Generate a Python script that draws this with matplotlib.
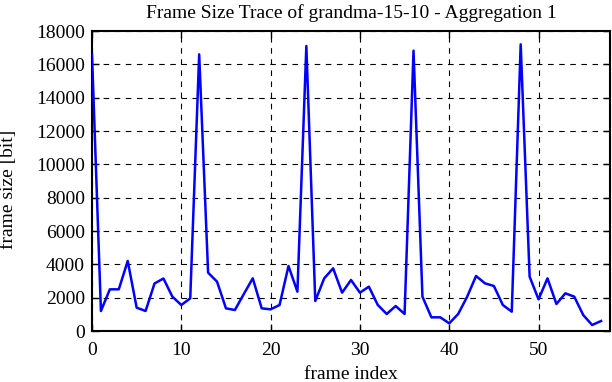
import numpy as np
import matplotlib
matplotlib.use("Agg")
import matplotlib.pyplot as plt

# frame sizes in bit
frame_size = [16600, 1200, 2500, 2500, 4200, 1400, 1200, 2850, 3150, 2060,
              1560, 1960, 16600, 3500, 2960, 1360, 1260, 2220, 3160, 1360,
              1300, 1560, 3900, 2360, 17100, 1800, 3160, 3760, 2300, 3060,
              2300, 2660, 1560, 1020, 1500, 1020, 16820, 2060, 820, 820,
              460, 1020, 2050, 3300, 2860, 2700, 1560, 1160, 17200, 3260,
              1900, 3160, 1620, 2260, 2060, 960, 360, 600]
frame_index = np.arange(len(frame_size))

xticks = [0, 10, 20, 30, 40, 50]
yticks = list(range(0, 18001, 2000))

plt.rcParams['font.family'] = ['Liberation Serif', 'DejaVu Serif']

fig = plt.figure(figsize=(6.12, 3.82), dpi=100)
ax = fig.add_axes([92/612, 51/382, 518/612, 300/382])

ax.plot(frame_index, frame_size, color='#0000ff', linewidth=1.8, zorder=3)

ax.set_xlim(0, 58)
ax.set_ylim(0, 18000)
ax.set_xticks(xticks)
ax.set_yticks(yticks)
ax.grid(True, color='black', linestyle=(0, (5, 5)), linewidth=0.8)
ax.tick_params(direction='in', length=5, width=1, top=True, right=True,
               labelsize=14)
ax.tick_params(axis='x', pad=8)
ax.tick_params(axis='y', pad=5)
for s in ax.spines.values():
    s.set_linewidth(1.5)

ax.set_title("Frame Size Trace of grandma-15-10 - Aggregation 1", fontsize=14, pad=9)
ax.set_xlabel("frame index", fontsize=14, labelpad=5)
ax.set_ylabel("frame size [bit]", fontsize=14)
ax.yaxis.set_label_coords(-0.145, 0.473)

fig.savefig("out.png", dpi=100)
